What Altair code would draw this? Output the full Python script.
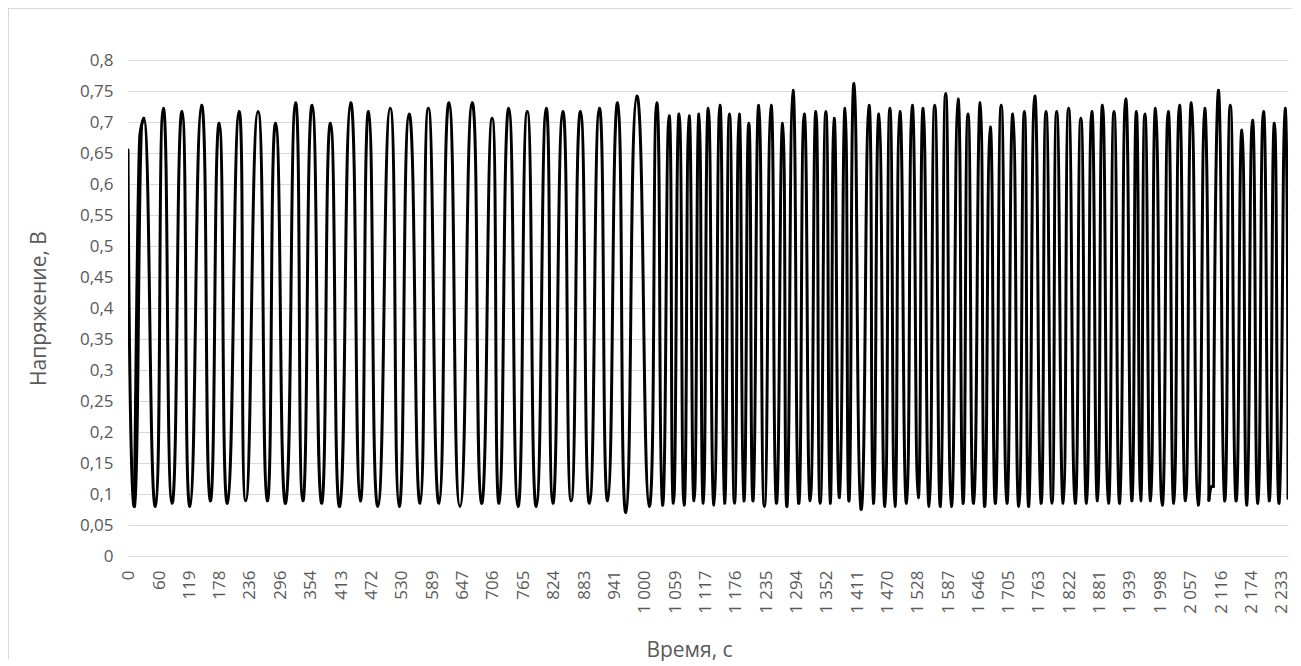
import altair as alt
import pandas as pd

time_s = [
    0, 12.5, 23.1, 30.5, 53.0, 68.4, 85.2, 104.5, 119.9, 142.3, 159.1, 176.4,
    192.4, 215.0, 227.9, 251.6, 269.5, 285.7, 305.0, 324.3, 338.4, 356.3, 374.4,
    391.8, 409.7, 430.9, 449.6, 465.6, 483.5, 507.4, 524.8, 544.1, 565.3, 581.3,
    601.9, 621.2, 642.4, 666.1, 684.1, 704.7, 718.2, 736.9, 754.8, 772.7, 790.1,
    809.4, 822.3, 841.6, 857.6, 875.7, 893.1, 912.3, 928.3, 947.6, 963.6, 984.8,
    1008.7, 1023.4, 1034.4, 1047.3, 1055.6, 1066.6, 1076.2, 1085.9, 1095.5,
    1105.1, 1113.4, 1123.1, 1134.1, 1145.6, 1154.5, 1164.1, 1173.8, 1182.8,
    1191.9, 1201.5, 1209.8, 1220.8, 1231.6, 1244.5, 1254.7, 1267.1, 1275.4,
    1286.9, 1297.9, 1308.7, 1320.3, 1331.3, 1339.6, 1350.6, 1358.9, 1366.6,
    1377.0, 1387.8, 1395.5, 1405.1, 1418.6, 1434.0, 1442.5, 1453.3, 1464.9,
    1474.5, 1484.2, 1493.8, 1506.7, 1517.7, 1529.3, 1538.9, 1550.5, 1561.3,
    1572.3, 1582.5, 1593.5, 1606.4, 1616.0, 1625.7, 1636.5, 1649.4, 1657.7,
    1668.7, 1678.9, 1689.9, 1700.9, 1712.5, 1724.0, 1734.8, 1743.3, 1754.9,
    1767.0, 1776.7, 1788.2, 1797.3, 1810.0, 1820.4, 1833.1, 1844.1, 1855.1,
    1865.3, 1876.3, 1886.0, 1897.5, 1908.3, 1919.3, 1930.9, 1942.5, 1951.5,
    1959.8, 1968.1, 1979.1, 1988.7, 2001.6, 2013.2, 2024.0, 2035.0, 2046.6,
    2058.1, 2071.1, 2083.8, 2091.9, 2096.7, 2100.6, 2110.8, 2122.3, 2133.3,
    2144.3, 2155.9, 2165.5, 2176.3, 2186.7, 2197.5, 2208.5, 2218.7, 2227.8,
    2239.4, 2245.0,
]
voltage_v = [
    0.655, 0.080, 0.680, 0.706, 0.080, 0.722, 0.085, 0.717, 0.080, 0.727, 0.089, 0.698,
    0.085, 0.717, 0.089, 0.717, 0.089, 0.698, 0.085, 0.731, 0.089, 0.727, 0.085,
    0.698, 0.080, 0.731, 0.089, 0.717, 0.080, 0.722, 0.080, 0.713, 0.085, 0.722,
    0.085, 0.731, 0.080, 0.731, 0.085, 0.706, 0.085, 0.722, 0.080, 0.717, 0.080,
    0.722, 0.085, 0.717, 0.089, 0.717, 0.085, 0.722, 0.089, 0.731, 0.070, 0.742,
    0.080, 0.731, 0.082, 0.710, 0.085, 0.713, 0.082, 0.710, 0.089,
    0.713, 0.085, 0.722, 0.082, 0.727, 0.085, 0.713, 0.085, 0.713,
    0.089, 0.698, 0.089, 0.727, 0.080, 0.727, 0.085, 0.698, 0.080,
    0.751, 0.085, 0.713, 0.089, 0.717, 0.085, 0.717, 0.085, 0.706,
    0.094, 0.722, 0.089, 0.762, 0.075, 0.727, 0.085, 0.713, 0.080,
    0.722, 0.080, 0.717, 0.085, 0.727, 0.094, 0.722, 0.080, 0.727,
    0.080, 0.746, 0.080, 0.737, 0.085, 0.713, 0.085, 0.731, 0.080,
    0.692, 0.085, 0.727, 0.085, 0.713, 0.080, 0.717, 0.080, 0.742,
    0.085, 0.717, 0.085, 0.717, 0.085, 0.722, 0.085, 0.706, 0.085,
    0.717, 0.089, 0.727, 0.085, 0.717, 0.085, 0.737, 0.089, 0.717,
    0.089, 0.713, 0.089, 0.722, 0.082, 0.717, 0.085, 0.727, 0.089,
    0.731, 0.082, 0.722, 0.090, 0.112, 0.112, 0.751, 0.089, 0.727,
    0.089, 0.687, 0.082, 0.703, 0.085, 0.717, 0.089, 0.698, 0.085,
    0.722, 0.093,
]

# small features drawn with a gentler curve: the shoulder on the first rise and
# the short step near 2 100 s
shoulder_span = (12.5, 30.5)
shoulder_point = 23.1
bump_span = (2091.9, 2100.6)

x_tick_values = [0, 60, 119, 178, 236, 296, 354, 413, 472, 530, 589, 647, 706,
                 765, 824, 883, 941, 1000, 1059, 1117, 1176, 1235, 1294, 1352,
                 1411, 1470, 1528, 1587, 1646, 1705, 1763, 1822, 1881, 1939,
                 1998, 2057, 2116, 2174, 2233]
y_tick_values = [0, 0.05, 0.1, 0.15, 0.2, 0.25, 0.3, 0.35, 0.4, 0.45, 0.5,
                 0.55, 0.6, 0.65, 0.7, 0.75, 0.8]

rows = []
for t, v in zip(time_s, voltage_v):
    # main curve, split round the step (its end points are shared)
    if t <= bump_span[0] and t != shoulder_point:
        rows.append({"t": t, "v": v, "piece": "mainA", "kind": "main"})
    if t >= bump_span[1]:
        rows.append({"t": t, "v": v, "piece": "mainB", "kind": "main"})
    if shoulder_span[0] <= t <= shoulder_span[1]:
        rows.append({"t": t, "v": v, "piece": "shoulder", "kind": "gentle"})
    if bump_span[0] <= t <= bump_span[1]:
        rows.append({"t": t, "v": v, "piece": "bump", "kind": "gentle"})
df = pd.DataFrame(rows)

FONT = "Open Sans"
TXT = "#595959"
GRID = "#d9d9d9"
W, H = 1160, 496

x_enc = alt.X("t:Q",
              scale=alt.Scale(domain=[0, 2245], nice=False, zero=False),
              axis=alt.Axis(values=x_tick_values, grid=False, ticks=False,
                            domain=True, domainColor=GRID, domainWidth=1,
                            labelAngle=270, labelAlign="right", labelBaseline="middle",
                            labelPadding=14, labelFont=FONT, labelFontSize=17,
                            labelColor=TXT, labelOverlap=False,
                            labelExpr="replace(format(datum.value, ','), ',', ' ')",
                            title="Время, с", titleFont=FONT, titleFontSize=21,
                            titleColor=TXT, titleFontWeight="normal",
                            titleX=561, titleY=94, titleBaseline="middle"))
y_enc = alt.Y("v:Q",
              scale=alt.Scale(domain=[0, 0.8], nice=False),
              axis=alt.Axis(values=y_tick_values, grid=True, gridColor=GRID,
                            gridWidth=1, ticks=False, domain=False,
                            labelPadding=15, labelFont=FONT, labelFontSize=17,
                            labelColor=TXT, labelOverlap=False,
                            labelExpr="replace(format(datum.value, '.2~f'), '.', ',')",
                            title="Напряжение, В", titleFont=FONT, titleFontSize=21,
                            titleColor=TXT, titleFontWeight="normal",
                            titleX=-89, titleBaseline="middle"))

base = alt.Chart(df)
main = base.transform_filter(alt.datum.kind == "main").mark_line(
    color="black", strokeWidth=3, interpolate="cardinal", tension=-0.9,
    strokeJoin="round", strokeCap="round", clip=True,
).encode(x=x_enc, y=y_enc, detail="piece:N")
gentle = base.transform_filter(alt.datum.kind == "gentle").mark_line(
    color="black", strokeWidth=3, interpolate="monotone",
    strokeJoin="round", strokeCap="round", clip=True,
).encode(x=x_enc, y=y_enc, detail="piece:N")

# light frame round the chart area (left and top edges, as in the reference)
frame_left = base.mark_rule(color=GRID, strokeWidth=1).encode(
    x=alt.value(-119.5), y=alt.value(-51.5), y2=alt.value(H + 103))
frame_top = base.mark_rule(color=GRID, strokeWidth=1).encode(
    x=alt.value(-119.5), x2=alt.value(W + 4), y=alt.value(-51.5))

chart = alt.layer(frame_left, frame_top, main, gentle).properties(
    width=W, height=H,
    autosize=alt.AutoSizeParams(type="none"),
    padding={"left": 120, "top": 52, "right": 5, "bottom": 105},
).configure_view(stroke=None)

chart.save("out.html", embed_options={"renderer": "svg", "actions": False})
